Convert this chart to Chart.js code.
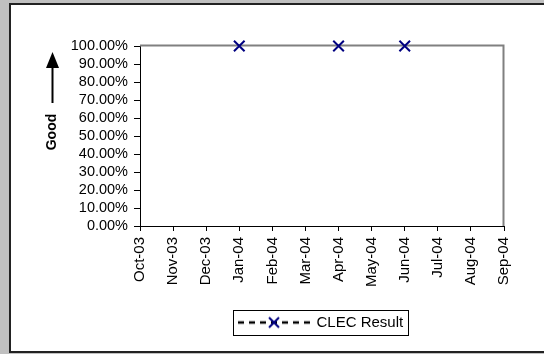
<!DOCTYPE html>
<html>
<head>
<meta charset="utf-8">
<script src="https://cdn.jsdelivr.net/npm/chart.js@4.4.1/dist/chart.umd.min.js"></script>
<style>
  html, body { margin: 0; padding: 0; background: #c0c0c0; width: 544px; height: 354px; overflow: hidden; }
  #panel { position: absolute; left: 9px; top: 3px; width: 540px; height: 346px; background: #fff;
           border-left: 2px solid #222; border-top: 2px solid #222; border-bottom: 2px solid #222; }
  #c { position: absolute; left: 0; top: 0; }
</style>
</head>
<body>
<div id="panel"></div>
<canvas id="c" width="544" height="354"></canvas>
<script>
const categories = ['Oct-03','Nov-03','Dec-03','Jan-04','Feb-04','Mar-04','Apr-04','May-04','Jun-04','Jul-04','Aug-04','Sep-04'];
const clecResult = [null, null, null, 1.0, null, null, 1.0, null, 1.0, null, null, null];
const yTickLabels = ['0.00%','10.00%','20.00%','30.00%','40.00%','50.00%','60.00%','70.00%','80.00%','90.00%','100.00%'];
const seriesName = 'CLEC Result';
const axisTitle = 'Good';

const FONT = '"Liberation Sans", Arial, sans-serif';
const LEGEND_FONT = 15;
const SYM_W = 74, SYM_BOX = 68, LEG_X = 241;

// legend symbol: dashed line with an X marker
const sym = document.createElement('canvas');
sym.width = SYM_W; sym.height = 14;
(function () {
  const g = sym.getContext('2d');
  g.strokeStyle = '#000'; g.lineWidth = 2.5; g.setLineDash([6, 5]);
  g.beginPath(); g.moveTo(0, 7); g.lineTo(SYM_W, 7); g.stroke();
  g.setLineDash([]);
  g.strokeStyle = '#000080'; g.lineWidth = 2;
  g.beginPath(); g.moveTo(31, 2); g.lineTo(41, 12); g.moveTo(41, 2); g.lineTo(31, 12); g.stroke();
})();

const decor = {
  id: 'decor',
  beforeDraw(chart) {
    const lg = chart.legend;
    if (lg) {
      const pad = lg.options.labels.padding;
      lg.left = LEG_X - pad;
      lg.top = 322.5 - pad - LEGEND_FONT / 2;
    }
  },
  beforeDatasetsDraw(chart) {
    const a = chart.chartArea, ctx = chart.ctx;
    ctx.save();
    ctx.strokeStyle = '#808080'; ctx.lineWidth = 2;
    ctx.beginPath();
    ctx.moveTo(a.left, a.top - 0.5);
    ctx.lineTo(a.right - 0.5, a.top - 0.5);
    ctx.lineTo(a.right - 0.5, a.bottom);
    ctx.stroke();
    ctx.restore();
  },
  afterDraw(chart) {
    const ctx = chart.ctx;
    ctx.save();
    // arrow
    ctx.fillStyle = '#000'; ctx.strokeStyle = '#000';
    ctx.lineWidth = 2;
    ctx.beginPath(); ctx.moveTo(52.5, 66); ctx.lineTo(52.5, 103); ctx.stroke();
    ctx.beginPath(); ctx.moveTo(52.5, 52); ctx.lineTo(46, 68); ctx.lineTo(59, 68); ctx.closePath(); ctx.fill();
    // axis title
    ctx.translate(52, 132);
    ctx.rotate(-Math.PI / 2);
    ctx.font = 'bold 14px ' + FONT;
    ctx.textAlign = 'center'; ctx.textBaseline = 'middle';
    ctx.fillText(axisTitle, 0, 0);
    ctx.restore();
    // legend border
    ctx.save();
    ctx.font = LEGEND_FONT + 'px ' + FONT;
    const tw = ctx.measureText(seriesName).width;
    const right = LEG_X + SYM_BOX + LEGEND_FONT / 2 + tw + 5;
    ctx.strokeStyle = '#000'; ctx.lineWidth = 1;
    ctx.strokeRect(233.5, 310.5, Math.round(right - 233.5), 25);
    ctx.restore();
  }
};

new Chart(document.getElementById('c'), {
  type: 'line',
  data: {
    labels: categories,
    datasets: [{
      label: seriesName,
      data: clecResult,
      borderColor: '#000',
      borderWidth: 2,
      borderDash: [5, 4],
      spanGaps: false,
      pointStyle: 'crossRot',
      pointRadius: 7.5,
      pointBorderColor: '#000080',
      pointBackgroundColor: '#000080',
      pointBorderWidth: 2,
      clip: false
    }]
  },
  options: {
    responsive: false,
    animation: false,
    devicePixelRatio: 1,
    layout: { padding: { left: 0, top: 46, right: 40, bottom: 0 } },
    plugins: {
      tooltip: { enabled: false },
      legend: {
        position: 'bottom',
        align: 'start',
        labels: {
          usePointStyle: true,
          pointStyleWidth: SYM_BOX,
          padding: 10,
          color: '#000',
          font: { family: FONT, size: LEGEND_FONT },
          generateLabels: (chart) => [{
            text: seriesName, pointStyle: sym, fillStyle: '#000', strokeStyle: '#000',
            lineWidth: 0, hidden: false, datasetIndex: 0
          }]
        }
      }
    },
    scales: {
      x: {
        type: 'category',
        offset: false,
        grid: { drawOnChartArea: false, drawTicks: true, tickLength: 5, color: '#000' },
        border: { display: true, color: '#000', width: 1 },
        ticks: { color: '#000', font: { family: FONT, size: 15 }, maxRotation: 90, minRotation: 90, padding: 6, autoSkip: false },
        afterFit: (s) => { s.height = 93; }
      },
      y: {
        min: 0, max: 1,
        grid: { drawOnChartArea: false, drawTicks: true, tickLength: 6, color: '#000' },
        border: { display: true, color: '#000', width: 1 },
        ticks: {
          stepSize: 0.1, color: '#000', padding: 6, autoSkip: false,
          font: { family: FONT, size: 14.5 },
          callback: (v, i) => yTickLabels[i]
        },
        afterFit: (s) => { s.width = 140; }
      }
    }
  },
  plugins: [decor]
});
</script>
</body>
</html>
